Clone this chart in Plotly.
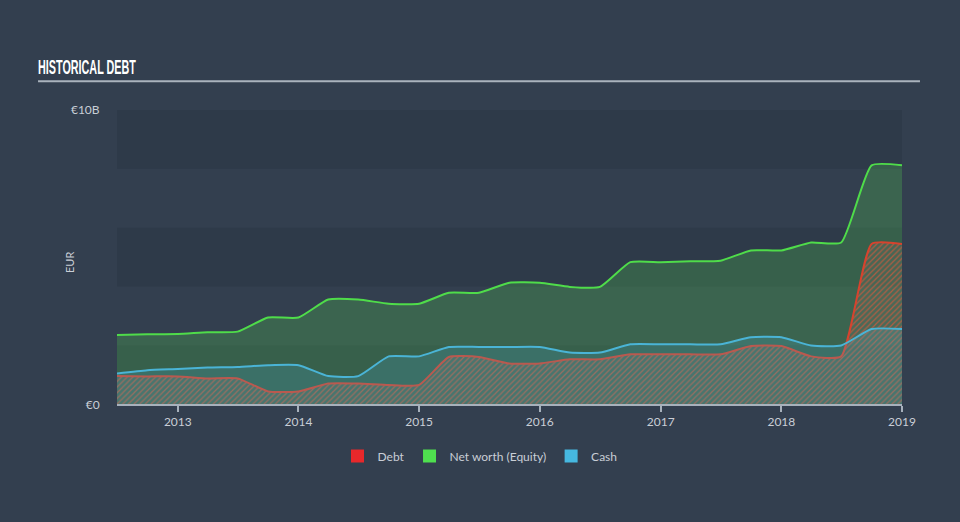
import plotly.graph_objects as go

dates = ["2012-07-01", "2012-10-01", "2013-01-01", "2013-04-01", "2013-07-01", "2013-10-01",
         "2014-01-01", "2014-04-01", "2014-07-01", "2014-10-01", "2015-01-01", "2015-04-01",
         "2015-07-01", "2015-10-01", "2016-01-01", "2016-04-01", "2016-07-01", "2016-10-01",
         "2017-01-01", "2017-04-01", "2017-07-01", "2017-10-01", "2018-01-01", "2018-04-01",
         "2018-07-01", "2018-10-01", "2019-01-01"]

# values in EUR billions
equity = [2.36, 2.38, 2.39, 2.45, 2.47, 2.95, 2.95, 3.56, 3.56, 3.42, 3.42, 3.79, 3.79, 4.13,
          4.13, 3.99, 3.99, 4.83, 4.83, 4.86, 4.88, 5.23, 5.23, 5.50, 5.50, 8.12, 8.12]
cash = [1.05, 1.16, 1.20, 1.25, 1.27, 1.33, 1.33, 0.96, 0.96, 1.63, 1.63, 1.95, 1.95, 1.95,
        1.95, 1.76, 1.76, 2.04, 2.04, 2.04, 2.04, 2.28, 2.28, 2.00, 2.00, 2.56, 2.56]
debt = [0.96, 0.95, 0.95, 0.88, 0.88, 0.44, 0.44, 0.71, 0.71, 0.66, 0.66, 1.61, 1.61, 1.39,
        1.39, 1.53, 1.53, 1.70, 1.70, 1.70, 1.70, 1.98, 1.98, 1.63, 1.63, 5.45, 5.45]

year_ticks = ["2013-01-01", "2014-01-01", "2015-01-01", "2016-01-01", "2017-01-01",
              "2018-01-01", "2019-01-01"]
year_labels = ["2013", "2014", "2015", "2016", "2017", "2018", "2019"]
y_ticks = [0, 10]
y_labels = ["€0", "€10B"]
band_edges = [0, 2, 4, 6, 8, 10]

BG = "#333f4f"
DARK = "#2e3a49"
TXT = "#c9ced6"
GREEN = "#4fdc4a"
BLUE = "#4ab4d6"
RED = "#d6432e"
FONT = "Lato, 'Open Sans', sans-serif"
SMOOTH = 0.5

fig = go.Figure()

fig.add_trace(go.Scatter(
    x=dates, y=equity, mode="lines", name="Net worth (Equity)", showlegend=False,
    line=dict(color=GREEN, width=2, shape="spline", smoothing=SMOOTH),
    fill="tozeroy", fillcolor="rgba(80,200,80,0.27)", hoverinfo="skip"))

fig.add_trace(go.Scatter(
    x=dates, y=debt, mode="lines", name="Debt", showlegend=False,
    line=dict(color=RED, width=2, shape="spline", smoothing=SMOOTH),
    fill="tozeroy", fillcolor="rgba(0,0,0,0)",
    fillpattern=dict(shape="/", fgcolor="#d9583c", fgopacity=0.7, bgcolor="rgba(120,120,110,0.25)",
                     size=4, solidity=0.3, fillmode="overlay"),
    hoverinfo="skip"))

fig.add_trace(go.Scatter(
    x=dates, y=cash, mode="lines", name="Cash", showlegend=False,
    line=dict(color=BLUE, width=2, shape="spline", smoothing=SMOOTH),
    fill="tozeroy", fillcolor="rgba(74,182,216,0.2)", hoverinfo="skip"))

# legend-only entries
for nm, col in [("Debt", "#e8282b"), ("Net worth (Equity)", "#4fe04f"), ("Cash", "#46b8e0")]:
    fig.add_trace(go.Scatter(x=[None], y=[None], mode="markers", name=nm,
                             marker=dict(symbol="square", size=13, color=col)))

shapes = []
for i in range(len(band_edges) - 1):
    if i % 2 == 0:
        shapes.append(dict(type="rect", xref="paper", yref="y", x0=0, x1=1,
                           y0=band_edges[i], y1=band_edges[i + 1],
                           fillcolor=DARK, line=dict(width=0), layer="below"))
# title underline
shapes.append(dict(type="line", xref="paper", yref="paper", x0=-0.1006, x1=1.0229,
                   y0=1.0973, y1=1.0973, line=dict(color="#aab3bd", width=2)))

fig.update_layout(
    width=960, height=522,
    margin=dict(l=117, r=58, t=110, b=114),
    paper_bgcolor=BG, plot_bgcolor=BG,
    font=dict(family=FONT, color=TXT, size=12),
    title=dict(text="<b>HISTORICAL DEBT</b>", x=38 / 960, xref="container", xanchor="left",
               y=(522 - 67) / 522, yref="container", yanchor="middle",
               font=dict(family="'Liberation Sans', Arial, sans-serif",
                         size=20, color="#ffffff")),
    shapes=shapes,
    annotations=[dict(text="EUR", xref="paper", yref="paper", x=(69 - 117) / 785, y=0.48,
                      textangle=-90, showarrow=False, xanchor="center", yanchor="middle",
                      font=dict(size=11, color=TXT))],
    showlegend=True,
    legend=dict(orientation="h", x=0.5, xref="container", xanchor="center",
                y=(522 - 456) / 522, yref="container", yanchor="middle",
                font=dict(size=12, color=TXT), bgcolor="rgba(0,0,0,0)",
                traceorder="normal", itemwidth=30),
    xaxis=dict(type="date", range=["2012-07-01", "2019-01-01"],
               tickvals=year_ticks, ticktext=year_labels,
               showgrid=False, zeroline=False, showline=True, linecolor="#a7b1bc", linewidth=1.5,
               ticks="outside", ticklen=6, tickcolor="#a7b1bc", tickwidth=1.5,
               tickfont=dict(size=12, color=TXT)),
    yaxis=dict(range=[0, 10], tickvals=y_ticks, ticktext=y_labels,
               showgrid=False, zeroline=False, showline=False,
               ticks="outside", ticklen=14, tickcolor="rgba(0,0,0,0)",
               tickfont=dict(size=12, color=TXT)),
)

# condense the title horizontally (the reference uses a narrow display face)
post = """
var t = document.querySelector('.gtitle');
if (t) {
  var x = parseFloat(t.getAttribute('x')) || 0;
  t.setAttribute('transform', 'translate(' + x + ',0) scale(0.54,1) translate(' + (-x) + ',0)');
}
"""
fig.write_html("out.html", post_script=post)
